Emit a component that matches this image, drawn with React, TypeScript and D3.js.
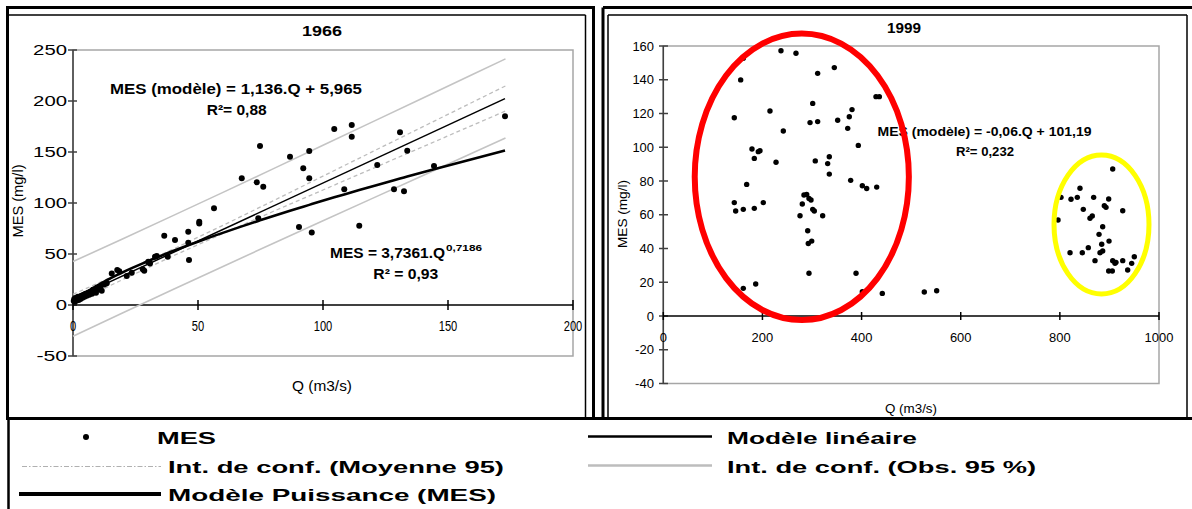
import React from "react";
import * as d3 from "d3";

// ---------- 1966 data (Q m3/s, MES mg/l) ----------
const POINTS_1966: [number, number][] = [
  [0.3, 4], [0.5, 6], [0.8, 3.5], [1, 5.5], [1.2, 7], [1.5, 4.5], [1.8, 6.5], [2, 8], [2.3, 5], [2.7, 7.5],
  [3, 6], [3.3, 9], [3.8, 7], [4.2, 10], [4.6, 8], [5, 11], [5.5, 9], [6, 12], [6.5, 10], [7, 13],
  [7.6, 11], [8, 15], [8.6, 14], [9.2, 12], [9.6, 16], [10.5, 15.4], [11, 18], [11.5, 14], [12.5, 20], [13.5, 21.3],
  [15.5, 31], [17.7, 34.3], [18.5, 33], [21.5, 28.4], [23.5, 31.7], [27.9, 35], [28.5, 33.5], [30.1, 42.5], [30.8, 40.8], [32.8, 47.4],
  [33.5, 48], [36.5, 68], [37.9, 47.4], [40.8, 63.7], [46.1, 71.9], [46.1, 61], [46.4, 44.1], [50.5, 81.7], [50.5, 80], [56.4, 94.8],
  [67.5, 124.2], [73.5, 120.3], [74.1, 85], [74.8, 155.9], [76.1, 116], [86.8, 145.4], [90.4, 76.5], [92.1, 134], [94.5, 151], [94.5, 124.2],
  [95.5, 71], [104.5, 172.5], [108.5, 113.4], [111.5, 176.5], [111.5, 165], [114.5, 77.8], [121.7, 137.3], [128.4, 113.4], [130.8, 169.3], [132.4, 111.5],
  [133.7, 151.3], [144.4, 136.3], [172.8, 185],
];

// models
const LIN_SLOPE = 1.136;
const LIN_INTERCEPT = 5.965;
const POW_A = 3.7361;
const POW_B = 0.7186;
const LIN_Q_RANGE = [0, 172.8];

// confidence interval half widths
const BAND_Q = [0, 20, 40, 60, 80, 100, 120, 140, 160, 173];
const MEAN_CI_HALF = [4.5, 3.6, 3.3, 4, 5.2, 6.8, 8.3, 9.8, 11.3, 12.3];
const OBS_CI_HALF = [36.6, 36.3, 36.2, 36.3, 36.6, 37, 37.5, 38, 38.5, 38.8];

const X_TICKS_1966 = [0, 50, 100, 150, 200];
const Y_TICKS_1966 = [-50, 0, 50, 100, 150, 200, 250];

// ---------- 1999 data ----------
const POINTS_1999: [number, number][] = [
  [161.4, 152.7], [156.1, 139.9], [143.2, 117.5], [237.4, 157.2], [267.7, 155.7], [215.2, 121.5], [242.1, 109.6], [178.9, 99], [191.6, 97.4], [195, 98],
  [183.6, 93.4], [227.4, 91.1], [168.2, 78], [143.2, 67.2], [146, 62.2], [161.4, 63.2], [183.6, 63.8], [201.7, 67.2], [301.4, 126], [296, 114.6],
  [311.4, 115.2], [311.4, 143.8], [345, 147.2], [351.8, 116], [372, 111.2], [375.2, 118.1], [380.7, 122.3], [393.4, 101.1], [306.6, 91.9], [331.6, 90.3],
  [334.9, 94.4], [334.9, 84.1], [378, 80.4], [401.5, 77.2], [410.3, 75.6], [430.5, 76.4], [429.1, 130], [435.8, 130], [283.8, 71.7], [289.3, 72],
  [293.9, 69.7], [298, 68.7], [280.4, 66.4], [301.4, 63.2], [304.6, 62.2], [275.8, 59.4], [321.5, 59.4], [291.3, 50.5], [292.5, 43], [299.4, 44.4],
  [293.9, 25.3], [161.4, 16.4], [186.4, 19], [388.8, 25.3], [401.5, 14.4], [441.8, 13.4], [526.5, 14.2], [551.5, 15],
  [796.3, 56.9], [802.3, 70.3], [822.5, 69.2], [835.2, 70.3], [840.6, 75.7], [847.3, 63.2], [860.8, 57.9], [865.4, 59.3], [868.2, 70.3], [886.4, 52.9],
  [879, 48.4], [889.7, 65.4], [893.1, 64.4], [898.5, 69.3], [906.6, 87.1], [899.2, 44.4], [884.4, 42.5], [881, 37.5], [886.4, 38.5], [857.4, 40.5],
  [845.3, 37.5], [820.5, 37.5], [870.9, 32.8], [906.6, 32.8], [911.2, 31.2], [913.2, 31.8], [926.8, 32.8], [898.5, 26.7], [905.8, 26.7], [936.8, 27.3],
  [944.9, 31.2], [950.2, 35.1], [926.8, 62.4],
];
// annotation ellipses: centre (Q, MES) and radii (Q units, MES units)
const RED_ZONE = [279.4, 82.5, 216, 84.9];
const YELLOW_ZONE = [884, 54.2, 95.8, 41.2];

const X_TICKS_1999 = [0, 200, 400, 600, 800, 1000];
const Y_TICKS_1999 = [-40, -20, 0, 20, 40, 60, 80, 100, 120, 140, 160];

const FONT = "'Liberation Sans', Arial, Helvetica, sans-serif";

function T(props: any) {
  const { children, w, size = 14, bold = false, anchor = "start", ...rest } = props;
  return (
    <text
      fontFamily={FONT}
      fontSize={size}
      fontWeight={bold ? "bold" : "normal"}
      textAnchor={anchor}
      textLength={w}
      lengthAdjust="spacingAndGlyphs"
      fill="#000"
      {...rest}
    >
      {children}
    </text>
  );
}

export default function App() {
  // ----- scales -----
  const x1 = d3.scaleLinear().domain([0, 200]).range([73, 573]);
  const y1 = d3.scaleLinear().domain([-50, 250]).range([356, 50]);
  const x2 = d3.scaleLinear().domain([0, 1000]).range([663.3, 1159]);
  const y2 = d3.scaleLinear().domain([-40, 160]).range([383.5, 46]);

  const line = d3.line<[number, number]>().x((d) => x1(d[0])).y((d) => y1(d[1]));
  const lin = (q: number) => LIN_SLOPE * q + LIN_INTERCEPT;

  const band = (halves: number[], sign: number) =>
    line(BAND_Q.map((q, i) => [q, lin(q) + sign * halves[i]] as [number, number])) || "";

  const powQs = Array.from(new Set(POINTS_1966.map((p) => p[0]))).sort((a, b) => a - b);
  const powPath = line(powQs.map((q) => [q, POW_A * Math.pow(q, POW_B)] as [number, number])) || "";
  const linPath = line(LIN_Q_RANGE.map((q) => [q, lin(q)] as [number, number])) || "";

  const tl1y = (s: string) => s.replace("-", "").length * 11.3 + (s.startsWith("-") ? 8 : 0);
  const tl1x = (s: string) => s.length * 6.2;
  const tl2 = (s: string) => s.replace("-", "").length * 7.2 + (s.startsWith("-") ? 4.5 : 0);

  return (
    <svg
      width={1192}
      height={509}
      style={{ position: "absolute", left: 0, top: 0, background: "#fff" }}
    >
      <rect x={0} y={0} width={1192} height={509} fill="#fff" />

      {/* ===== frames ===== */}
      <rect x={7.5} y={7.5} width={586} height={411} fill="none" stroke="#000" strokeWidth={3} />
      <line x1={8} x2={585.5} y1={15} y2={15} stroke="#000" strokeWidth={1.5} />
      <line x1={585.5} x2={585.5} y1={15} y2={418} stroke="#000" strokeWidth={1.5} />

      <line x1={603} x2={1192} y1={7.5} y2={7.5} stroke="#000" strokeWidth={3} />
      <line x1={603} x2={603} y1={7.5} y2={418} stroke="#000" strokeWidth={3} />
      <line x1={608} x2={1187} y1={15} y2={15} stroke="#000" strokeWidth={1.5} />
      <line x1={608} x2={608} y1={15} y2={418} stroke="#000" strokeWidth={1.5} />
      <line x1={1187} x2={1187} y1={15} y2={418} stroke="#000" strokeWidth={1.5} />

      <line x1={7} x2={1192} y1={418.5} y2={418.5} stroke="#000" strokeWidth={3} />
      <line x1={8.5} x2={8.5} y1={418} y2={509} stroke="#000" strokeWidth={2.5} />

      {/* ===== 1966 chart ===== */}
      <rect x={73} y={50} width={500} height={306} fill="none" stroke="#a6a6a6" strokeWidth={1.5} />
      <line x1={73} x2={73} y1={50} y2={356} stroke="#404040" strokeWidth={1.5} />
      {Y_TICKS_1966.map((v) => (
        <g key={"y1" + v}>
          <line x1={68} x2={77} y1={y1(v)} y2={y1(v)} stroke="#404040" strokeWidth={1.5} />
          <T x={67} y={y1(v) + 5} anchor="end" w={tl1y(String(v))} size={14}>
            {String(v)}
          </T>
        </g>
      ))}
      <line x1={73} x2={573} y1={y1(0)} y2={y1(0)} stroke="#000" strokeWidth={1.5} />
      {X_TICKS_1966.map((v) => (
        <g key={"x1" + v}>
          <line x1={x1(v)} x2={x1(v)} y1={y1(0) - 5} y2={y1(0) + 5} stroke="#000" strokeWidth={1.5} />
          <T x={x1(v)} y={331} anchor="middle" w={tl1x(String(v))} size={14}>
            {String(v)}
          </T>
        </g>
      ))}

      {/* confidence bands */}
      <path d={band(OBS_CI_HALF, 1)} fill="none" stroke="#c4c4c4" strokeWidth={1.6} />
      <path d={band(OBS_CI_HALF, -1)} fill="none" stroke="#c4c4c4" strokeWidth={1.6} />
      <path d={band(MEAN_CI_HALF, 1)} fill="none" stroke="#bdbdbd" strokeWidth={1.3} strokeDasharray="4,3" />
      <path d={band(MEAN_CI_HALF, -1)} fill="none" stroke="#bdbdbd" strokeWidth={1.3} strokeDasharray="4,3" />

      {POINTS_1966.map((p, i) => (
        <circle key={"p1" + i} cx={x1(p[0])} cy={y1(p[1])} r={3} fill="#000" />
      ))}

      <path d={linPath} fill="none" stroke="#000" strokeWidth={1.5} />
      <path d={powPath} fill="none" stroke="#000" strokeWidth={2.6} strokeLinejoin="round" />

      <T x={322} y={36} anchor="middle" bold w={40} size={14}>1966</T>
      <T x={110} y={93.5} bold w={252} size={14}>MES (modèle) =  1,136.Q + 5,965</T>
      <T x={206.7} y={115} bold w={60} size={14}>R²= 0,88</T>
      <T x={330} y={258.3} bold w={115} size={14}>MES = 3,7361.Q</T>
      <T x={446} y={250.7} bold w={36} size={9.5}>0,7186</T>
      <T x={373.3} y={279} bold w={65} size={14}>R² = 0,93</T>
      <T x={322} y={391} anchor="middle" w={60} size={15}>Q (m3/s)</T>
      <T transform="translate(23,201) rotate(-90)" x={0} y={0} anchor="middle" w={73} size={14.5}>
        MES (mg/l)
      </T>

      {/* ===== 1999 chart ===== */}
      <rect x={663.3} y={46} width={1159 - 663.3} height={383.5 - 46} fill="none" stroke="#a6a6a6" strokeWidth={1.5} />
      <line x1={663.3} x2={663.3} y1={46} y2={383.5} stroke="#404040" strokeWidth={1.5} />
      {Y_TICKS_1999.map((v) => (
        <g key={"y2" + v}>
          <line x1={659} x2={668} y1={y2(v)} y2={y2(v)} stroke="#404040" strokeWidth={1.5} />
          <T x={654} y={y2(v) + 4.5} anchor="end" w={tl2(String(v))} size={12.5}>
            {String(v)}
          </T>
        </g>
      ))}
      <line x1={663.3} x2={1159} y1={y2(0)} y2={y2(0)} stroke="#000" strokeWidth={1.5} />
      {X_TICKS_1999.map((v) => (
        <g key={"x2" + v}>
          <line x1={x2(v)} x2={x2(v)} y1={y2(0) - 4} y2={y2(0) + 4} stroke="#000" strokeWidth={1.5} />
          <T x={x2(v)} y={341.7} anchor="middle" w={tl2(String(v))} size={12.5}>
            {String(v)}
          </T>
        </g>
      ))}

      {POINTS_1999.map((p, i) => (
        <circle key={"p2" + i} cx={x2(p[0])} cy={y2(p[1])} r={2.7} fill="#000" />
      ))}

      <T x={904} y={33.3} anchor="middle" bold w={34} size={14}>1999</T>
      <T x={877.5} y={136} bold w={214} size={13.5}>MES (modèle) = -0,06.Q + 101,19</T>
      <T x={956} y={156} bold w={58} size={13.5}>R²= 0,232</T>
      <T x={911} y={413} anchor="middle" w={52} size={13.5}>Q (m3/s)</T>
      <T transform="translate(626.5,214) rotate(-90)" x={0} y={0} anchor="middle" w={68} size={13.5}>
        MES (mg/l)
      </T>

      <ellipse
        cx={x2(RED_ZONE[0])}
        cy={y2(RED_ZONE[1])}
        rx={x2(RED_ZONE[0] + RED_ZONE[2]) - x2(RED_ZONE[0])}
        ry={y2(RED_ZONE[1] - RED_ZONE[3]) - y2(RED_ZONE[1])}
        fill="none"
        stroke="#ff0000"
        strokeWidth={6}
      />
      <ellipse
        cx={x2(YELLOW_ZONE[0])}
        cy={y2(YELLOW_ZONE[1])}
        rx={x2(YELLOW_ZONE[0] + YELLOW_ZONE[2]) - x2(YELLOW_ZONE[0])}
        ry={y2(YELLOW_ZONE[1] - YELLOW_ZONE[3]) - y2(YELLOW_ZONE[1])}
        fill="none"
        stroke="#ffff00"
        strokeWidth={5}
      />

      {/* ===== legend ===== */}
      <circle cx={86} cy={437} r={3} fill="#000" />
      <T x={157} y={443.5} bold w={59} size={17}>MES</T>

      <line x1={22} x2={161} y1={466.5} y2={466.5} stroke="#b0b0b0" strokeWidth={1.2} strokeDasharray="5,2,1.5,2" />
      <T x={168} y={472.5} bold w={336} size={17}>Int. de conf. (Moyenne 95)</T>

      <line x1={19} x2={161} y1={494} y2={494} stroke="#000" strokeWidth={4} />
      <T x={168} y={500.5} bold w={328} size={17}>Modèle Puissance (MES)</T>

      <line x1={588} x2={712} y1={436.5} y2={436.5} stroke="#000" strokeWidth={2.7} />
      <T x={727} y={443.5} bold w={190} size={17}>Modèle linéaire</T>

      <line x1={588} x2={712} y1={465.5} y2={465.5} stroke="#bdbdbd" strokeWidth={2.7} />
      <T x={727} y={472.5} bold w={309} size={17}>Int. de conf. (Obs. 95 %)</T>
    </svg>
  );
}
